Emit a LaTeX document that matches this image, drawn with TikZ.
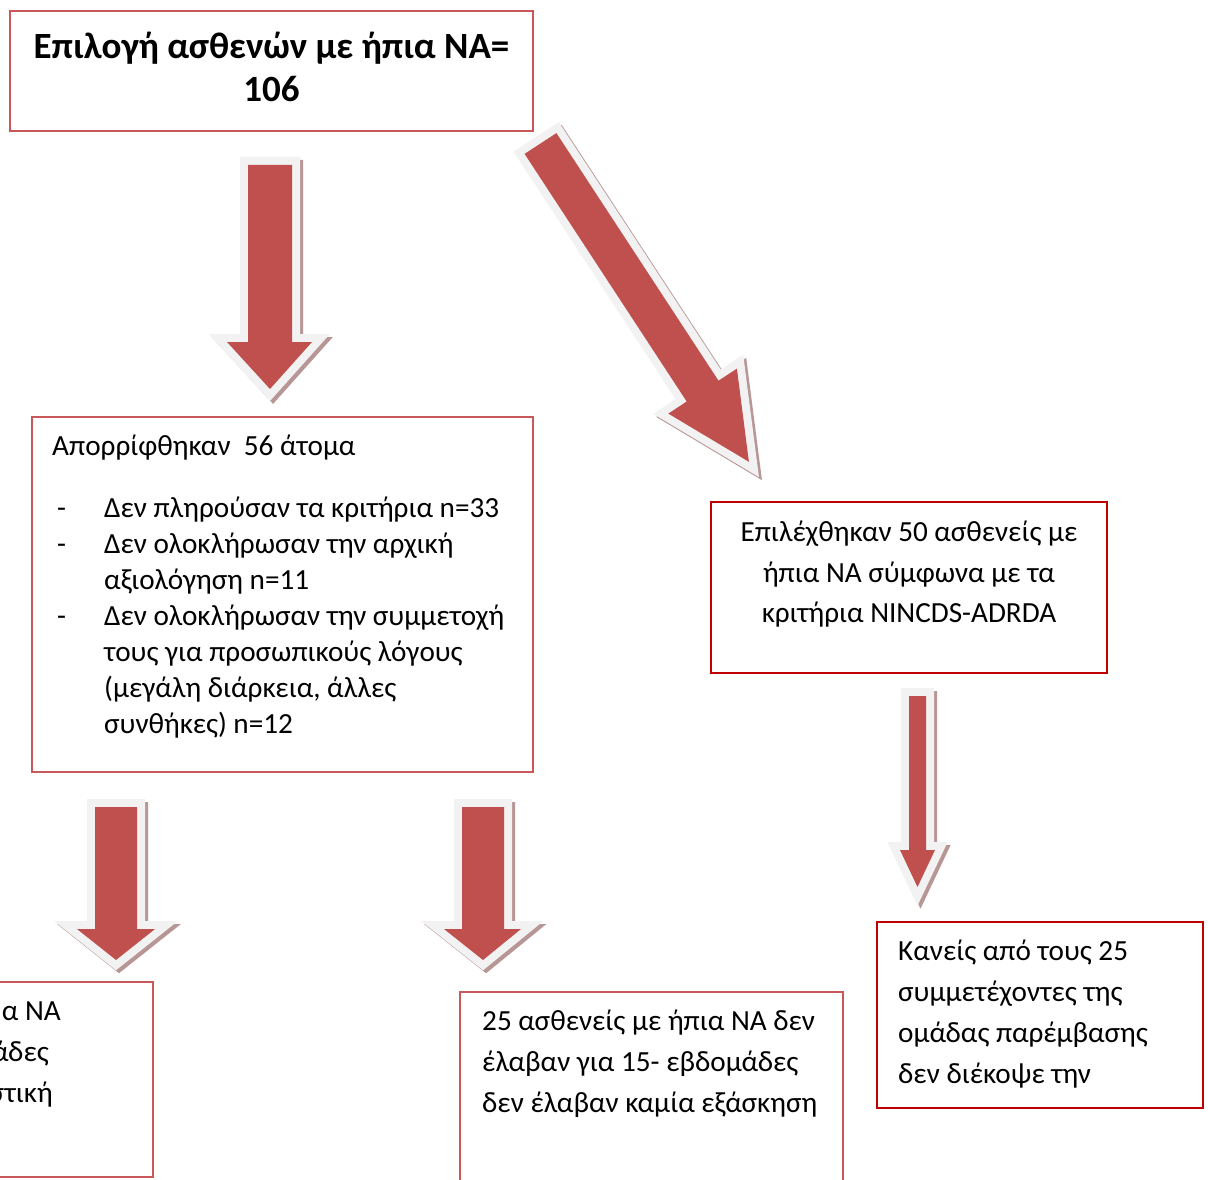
\documentclass[tikz,border=0pt]{standalone}
\usepackage{fontspec}
\setmainfont{Carlito}
\definecolor{ared}{HTML}{C0504D}
\definecolor{aout}{HTML}{F2F2F2}
\definecolor{ashadow}{HTML}{B89696}
\definecolor{bordA}{HTML}{C9585A}
\definecolor{bordB}{HTML}{C00000}
\newcommand\blockarrow[1]{%
  \filldraw[ashadow, line width=16pt, miter limit=20, shift={(3,3)}] #1 -- cycle;
  \draw[aout, line width=16pt, miter limit=20] #1 -- cycle;
  \fill[ared] #1 -- cycle;}
\begin{document}
\begin{tikzpicture}[x=1pt,y=-1pt,
  boxA/.style={draw=bordA, line width=2.2pt, inner sep=0pt, outer sep=0pt, anchor=north west},
  boxB/.style={draw=bordB, line width=2.5pt, inner sep=0pt, outer sep=0pt, anchor=north west},
  txt/.style={font=\fontsize{29.2}{36}\selectfont, inner sep=0pt, anchor=base west},
  ctxt/.style={txt, anchor=base},
  etxt/.style={txt, anchor=base east},
  ttl/.style={font=\fontsize{37}{43}\selectfont\bfseries, inner sep=0pt, anchor=base}]
\useasboundingbox (0,0) rectangle (1208,1180);
\fill[white] (0,0) rectangle (1208,1180);

% arrows
\blockarrow{(248,165) -- (292,165) -- (292,342) -- (312,342) -- (270,389) -- (227,342) -- (248,342)}
\blockarrow{(524.6,153.9) -- (556.4,133.1) -- (718.5,380.7) -- (736.9,368.6) -- (748.9,461.8) -- (668.3,413.6) -- (686.7,401.5)}
\blockarrow{(95,807) -- (137,807) -- (137,929) -- (155,929) -- (116,960) -- (77,929) -- (95,929)}
\blockarrow{(462,807) -- (504,807) -- (504,929) -- (521,929) -- (483,960) -- (444,929) -- (462,929)}
\blockarrow{(909,696) -- (926,696) -- (926,850) -- (935,850) -- (917.5,887) -- (900,850) -- (909,850)}

% boxes
\node[boxA, minimum width=523, minimum height=120] (top) at (10,11) {};
\node[boxA, minimum width=501, minimum height=355] (rej) at (32,417) {};
\node[boxB, minimum width=396, minimum height=171] (sel) at (711,502) {};
\node[boxB, minimum width=326, minimum height=186] (none) at (877,922) {};
\node[boxA, minimum width=200, minimum height=195] (lft) at (-47,982) {};
\node[boxA, minimum width=383, minimum height=240] (ctrl) at (460,992) {};

% title
\node[ttl] (t1) at (271.5,59) {Επιλογή ασθενών με ήπια ΝΑ=};
\node[ttl] (t2) at (271.5,102) {106};

% rejected
\node[txt] (r0) at (52,455) {Απορρίφθηκαν~~56 άτομα};
\node[txt] (d1) at (57,517) {-};
\node[txt] (d2) at (57,553) {-};
\node[txt] (d3) at (57,625) {-};
\node[txt] (r1) at (104,517) {Δεν πληρούσαν τα κριτήρια n=33};
\node[txt] (r2) at (104,553) {Δεν ολοκλήρωσαν την αρχική};
\node[txt] (r3) at (104,589) {αξιολόγηση n=11};
\node[txt] (r4) at (104,625) {Δεν ολοκλήρωσαν την συμμετοχή};
\node[txt] (r5) at (104,661) {τους για προσωπικούς λόγους};
\node[txt] (r6) at (104,697) {(μεγάλη διάρκεια, άλλες};
\node[txt] (r7) at (104,733) {συνθήκες) n=12};

% selected
\node[ctxt] (s1) at (909,541) {Επιλέχθηκαν 50 ασθενείς με};
\node[ctxt] (s2) at (909,582) {ήπια ΝΑ σύμφωνα με τα};
\node[ctxt] (s3) at (909,622) {κριτήρια NINCDS-ADRDA};

% none
\node[txt] (n1) at (898,960) {Κανείς από τους 25};
\node[txt] (n2) at (898,1001) {συμμετέχοντες της};
\node[txt] (n3) at (898,1042) {ομάδας παρέμβασης};
\node[txt] (n4) at (898,1083) {δεν διέκοψε την};

% control
\node[txt] (c1) at (482,1030) {25 ασθενείς με ήπια ΝΑ δεν};
\node[txt] (c2) at (482,1071) {έλαβαν για 15- εβδομάδες};
\node[txt] (c3) at (482,1112) {δεν έλαβαν καμία εξάσκηση};

% left fragments (cut at the left edge, as in the reference)
\node[etxt] (f1) at (61,1020) {α ΝΑ};
\node[etxt] (f2) at (49,1061) {άδες};
\node[etxt] (f3) at (53,1102) {στική};
\end{tikzpicture}
\end{document}
